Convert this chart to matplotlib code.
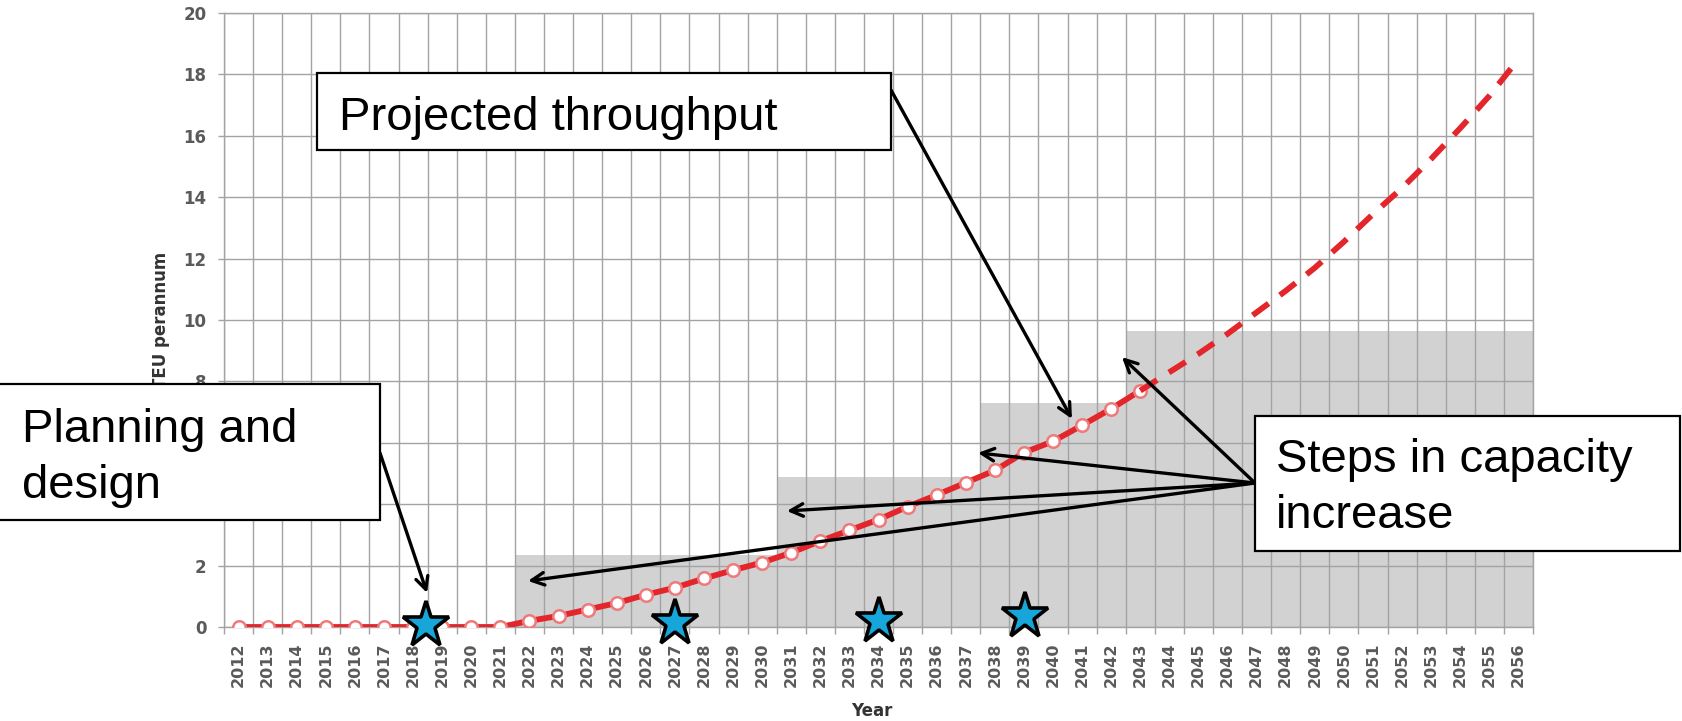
import matplotlib
matplotlib.use("Agg")
import matplotlib.pyplot as plt
from matplotlib.patches import Rectangle

# ---------------- data ----------------
years = list(range(2012, 2057))
year_labels = [str(y) for y in years]

throughput_years = list(range(2012, 2044))
throughput = [0.0, 0.0, 0.0, 0.0, 0.0, 0.0, 0.0, 0.0, 0.0, 0.0,
              0.2, 0.36, 0.57, 0.78, 1.05, 1.28, 1.58, 1.85, 2.1, 2.42,
              2.8, 3.15, 3.5, 3.92, 4.3, 4.7, 5.1, 5.68, 6.05, 6.57,
              7.11, 7.7]

projection_years = list(range(2043, 2057))
projection = [7.7, 8.3, 8.9, 9.55, 10.25, 10.95, 11.7, 12.55, 13.45, 14.3,
              15.25, 16.25, 17.3, 18.5]

capacity = [0, 0, 0, 0, 0, 0, 0, 0, 0, 0,
            2.35, 2.35, 2.35, 2.35, 2.35, 2.35, 2.35, 2.35, 2.35,
            4.9, 4.9, 4.9, 4.9, 4.9, 4.9, 4.9,
            7.3, 7.3, 7.3, 7.3, 7.3,
            9.65, 9.65, 9.65, 9.65, 9.65, 9.65, 9.65, 9.65, 9.65, 9.65,
            9.65, 9.65, 9.65, 9.65]

milestone_years = [2018.45, 2027.0, 2034.0, 2039.05]
milestone_values = [0.05, 0.12, 0.2, 0.35]

y_ticks = [0, 2, 4, 6, 8, 10, 12, 14, 16, 18, 20]

# annotation targets (year, value)
projected_target = (2040.65, 6.78)
planning_target = (2018.48, 1.11)
steps_targets = [(2042.37, 8.79), (2037.42, 5.67), (2030.85, 3.78), (2021.95, 1.50)]

# ---------------- figure ----------------
W, H = 1682, 721
fig = plt.figure(figsize=(W / 100, H / 100), dpi=100)


def fx(px):
    return px / W


def fy(py):
    return 1 - py / H


ax = fig.add_axes([fx(224), fy(627), (1533 - 224) / W, (627 - 13) / H])

x0 = years[0]
xi = lambda ys: [y - x0 for y in ys]

GRID = "#a3a3a3"
LABEL = "#5a5a5a"
RED = "#e3262b"

ax.bar(xi(years), capacity, width=1.0, color="#d2d2d2", edgecolor="none", zorder=1)

ax.plot(xi(throughput_years), throughput, color=RED, lw=4.2, marker="o", ms=9,
        mfc="white", mec="#ee7a7c", mew=1.8, zorder=3, solid_capstyle="round")
ax.plot(xi(projection_years), projection, color=RED, lw=4.2,
        linestyle=(0, (3.4, 2.4)), zorder=3)

ax.plot(xi(milestone_years), milestone_values, linestyle="none", marker="*",
        ms=35, mfc="#17a6d9", mec="black", mew=2.6, zorder=6, clip_on=False)

ax.set_xlim(-0.5, len(years) - 0.5)
ax.set_ylim(0, 20)

ax.set_xticks(xi(years))
ax.set_xticklabels(year_labels, rotation=90, fontsize=11.5, fontweight="bold", color=LABEL)
ax.set_xticks([i - 0.5 for i in range(len(years) + 1)], minor=True)
ax.set_yticks(y_ticks)
ax.set_yticklabels([str(v) for v in y_ticks], fontsize=12, fontweight="bold", color=LABEL)

ax.tick_params(axis="x", which="major", length=0, pad=11)
ax.tick_params(axis="x", which="minor", length=5, width=1, color=GRID, direction="out")
ax.tick_params(axis="y", which="major", length=4.5, width=1, color=GRID, pad=8)

ax.grid(which="minor", axis="x", color=GRID, lw=1.0, zorder=2)
ax.grid(which="major", axis="y", color=GRID, lw=1.0, zorder=2)
ax.set_axisbelow("line")
for s in ax.spines.values():
    s.set_color(GRID)
    s.set_linewidth(1.0)

ax.set_ylabel("TEU perannum", fontsize=12, fontweight="bold", color="#333333")
ax.yaxis.set_label_coords(-0.041, 0.5)
ax.set_xlabel("Year", fontsize=12, fontweight="bold", color="#333333")
ax.xaxis.set_label_coords(0.495, -0.122)

# ---------------- callouts ----------------
BOXFONT = dict(family="Liberation Sans", fontsize=34, color="black")


def box(x0p, y0p, x1p, y1p):
    r = Rectangle((fx(x0p), fy(y1p)), fx(x1p) - fx(x0p), fy(y0p) - fy(y1p),
                  transform=fig.transFigure, facecolor="white", edgecolor="black",
                  lw=1.6, zorder=10)
    fig.add_artist(r)


box(317, 73, 891, 150)
fig.text(fx(339), fy(130), "Projected throughput", ha="left", va="baseline", zorder=11, **BOXFONT)

box(-2, 384, 380, 520)
fig.text(fx(22), fy(442), "Planning and", ha="left", va="baseline", zorder=11, **BOXFONT)
fig.text(fx(22), fy(498), "design", ha="left", va="baseline", zorder=11, **BOXFONT)

box(1255, 416, 1680, 551)
fig.text(fx(1276), fy(472), "Steps in capacity", ha="left", va="baseline", zorder=11, **BOXFONT)
fig.text(fx(1276), fy(528), "increase", ha="left", va="baseline", zorder=11, **BOXFONT)

ARROW = dict(arrowstyle="->,head_length=0.9,head_width=0.45", lw=2.4, color="black",
             shrinkA=0, shrinkB=0)


def arrow(target, start_px):
    ax.annotate("", xy=(target[0] - x0, target[1]), xycoords="data",
                xytext=(fx(start_px[0]), fy(start_px[1])), textcoords="figure fraction",
                arrowprops=ARROW, annotation_clip=False, zorder=7)


arrow(projected_target, (891, 90))
arrow(planning_target, (380, 453))
for t in steps_targets:
    arrow(t, (1255, 483))

fig.savefig("out.png", dpi=100)
